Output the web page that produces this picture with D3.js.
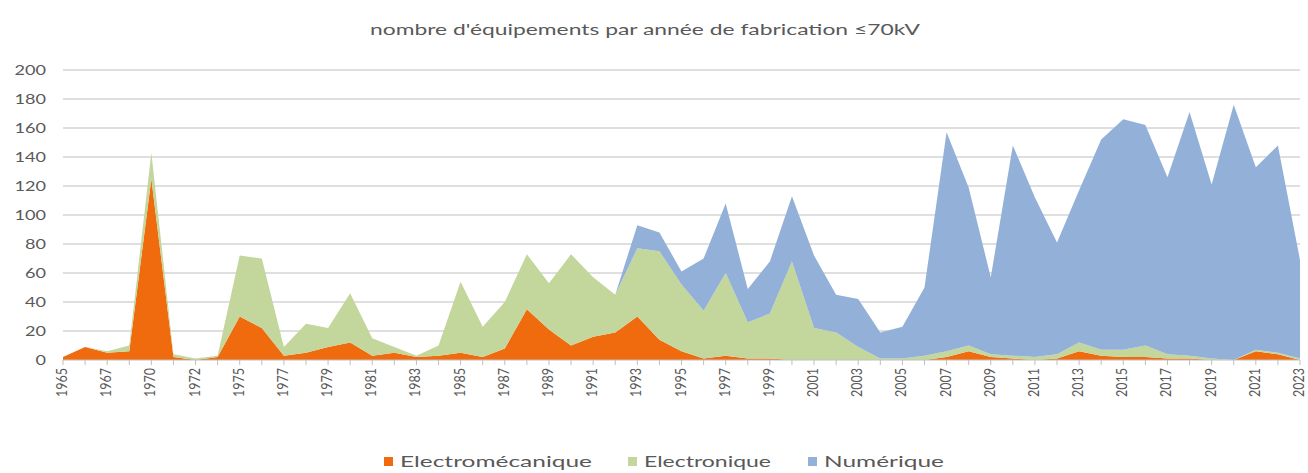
<!DOCTYPE html>
<html>
<head>
<meta charset="utf-8">
<script src="https://cdn.jsdelivr.net/npm/d3@7"></script>
<style>
  body { margin: 0; background: #fff; }
  text { font-family: Lato, "Open Sans", sans-serif; fill: #595959; }
</style>
</head>
<body>
<div id="chart"></div>
<script>
// data
const YEARS = ["1965","1966","1967","1968","1970","1971","1972","1973","1975","1976",
  "1977","1978","1979","1980","1981","1982","1983","1984","1985","1986",
  "1987","1988","1989","1990","1991","1992","1993","1994","1995","1996",
  "1997","1998","1999","2000","2001","2002","2003","2004","2005","2006",
  "2007","2008","2009","2010","2011","2012","2013","2014","2015","2016",
  "2017","2018","2019","2020","2021","2022","2023"];

const ELECTROMECANIQUE = [2,9,5,6,125,2,0,2,30,22,
  3,5,9,12,3,5,2,3,5,2,
  8,35,21,10,16,19,30,14,6,1,
  3,1,1,0,0,0,0,0,0,0,
  2,6,2,1,0,1,6,3,2,2,
  1,1,0,0,6,4,0];

const ELECTRONIQUE = [0,0,1,4,18,2,1,1,42,48,
  6,20,13,34,12,4,1,7,49,21,
  32,38,32,63,41,26,47,61,46,33,
  57,25,31,68,22,19,9,1,1,3,
  4,4,2,2,2,3,6,4,5,8,
  3,2,1,0,1,1,1];

const NUMERIQUE = [0,0,0,0,0,0,0,0,0,0,
  0,0,0,0,0,0,0,0,0,0,
  0,0,0,0,0,0,16,13,9,36,
  48,23,36,45,50,26,33,18,22,47,
  151,109,53,145,110,77,105,145,159,152,
  122,168,120,176,126,143,68];

const SERIES = ["Electromécanique", "Electronique", "Numérique"];
const COLORS = ["#F06A0E", "#C3D69B", "#93B1D8"];
const Y_TICKS = [0,20,40,60,80,100,120,140,160,180,200];

const WIDTH = 1308, HEIGHT = 473;
const MARGINS = {left: 63, right: 8, top: 70, bottom: 113};
const SX = 1.45; // the source picture is stretched sideways

const svg = d3.select("#chart")
  .append("svg")
    .attr("width", WIDTH)
    .attr("height", HEIGHT);

const rows = YEARS.map((y, i) => ({
  year: y,
  "Electromécanique": ELECTROMECANIQUE[i],
  "Electronique": ELECTRONIQUE[i],
  "Numérique": NUMERIQUE[i]
}));

const x = d3.scalePoint()
  .domain(YEARS)
  .range([MARGINS.left, WIDTH - MARGINS.right]);

const y = d3.scaleLinear()
  .domain([0, 200])
  .range([HEIGHT - MARGINS.bottom, MARGINS.top]);

// gridlines
svg.append("g")
  .selectAll("line")
  .data(Y_TICKS.slice(1))
  .enter()
  .append("line")
    .attr("x1", MARGINS.left)
    .attr("x2", WIDTH - MARGINS.right)
    .attr("y1", d => y(d))
    .attr("y2", d => y(d))
    .attr("stroke", "#d4d4d4")
    .attr("stroke-width", 1.5);

// stacked areas
const stack = d3.stack().keys(SERIES);
const layers = stack(rows);

const area = d3.area()
  .x(d => x(d.data.year))
  .y0(d => y(d[0]))
  .y1(d => y(d[1]));

svg.append("g")
  .selectAll("path")
  .data(layers)
  .enter()
  .append("path")
    .attr("d", area)
    .attr("fill", (d, i) => COLORS[i]);

// x axis line + ticks
svg.append("line")
  .attr("x1", MARGINS.left)
  .attr("x2", WIDTH - MARGINS.right)
  .attr("y1", y(0))
  .attr("y2", y(0))
  .attr("stroke", "#bfbfbf")
  .attr("stroke-width", 1.2);

svg.append("g")
  .selectAll("line")
  .data(YEARS)
  .enter()
  .append("line")
    .attr("x1", d => x(d))
    .attr("x2", d => x(d))
    .attr("y1", y(0))
    .attr("y2", y(0) + 5)
    .attr("stroke", "#bfbfbf");

// x labels, every other category
svg.append("g")
  .selectAll("text")
  .data(YEARS.filter((d, i) => i % 2 === 0))
  .enter()
  .append("text")
    .attr("transform", d => `translate(${x(d) + 4},${y(0) + 8}) scale(1.25,1) rotate(-90)`)
    .attr("text-anchor", "end")
    .attr("font-size", 12.5)
    .text(d => d);

// y labels
svg.append("g")
  .selectAll("text")
  .data(Y_TICKS)
  .enter()
  .append("text")
    .attr("transform", d => `translate(46,${y(d) + 4.5}) scale(${SX},1)`)
    .attr("text-anchor", "end")
    .attr("font-size", 12.5)
    .text(d => d);

// title
svg.append("text")
  .attr("x", 370)
  .attr("y", 35)
  .attr("font-size", 15)
  .attr("textLength", 550)
  .attr("lengthAdjust", "spacingAndGlyphs")
  .text("nombre d'équipements par année de fabrication ≤70kV");

// legend
const LEGEND_X = [384, 628, 808];
const LEGEND_W = [192, 127, 120];
const legend = svg.append("g")
  .selectAll("g")
  .data(SERIES)
  .enter()
  .append("g")
    .attr("transform", (d, i) => `translate(${LEGEND_X[i]},457)`);

legend.append("rect")
  .attr("width", 9)
  .attr("height", 9)
  .attr("fill", (d, i) => COLORS[i]);

legend.append("text")
  .attr("x", 16)
  .attr("y", 10)
  .attr("font-size", 15)
  .attr("textLength", (d, i) => LEGEND_W[i])
  .attr("lengthAdjust", "spacingAndGlyphs")
  .text(d => d);
</script>
</body>
</html>
